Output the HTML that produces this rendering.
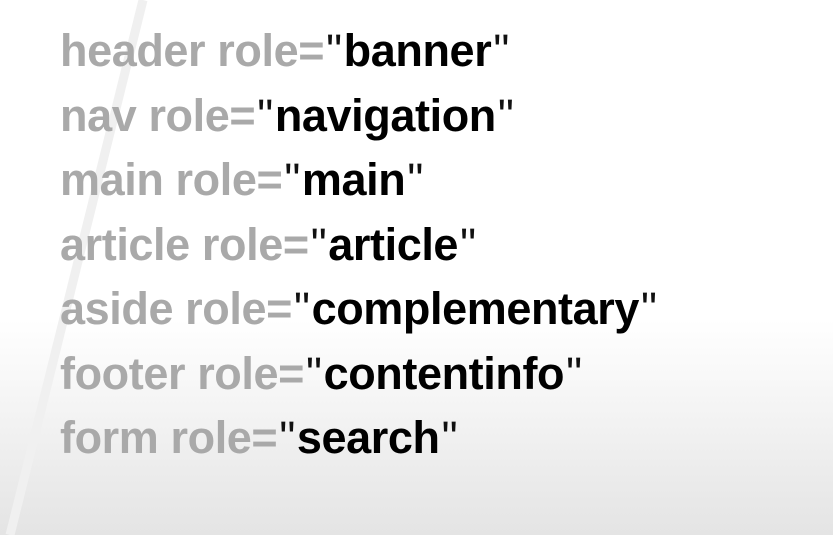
<!DOCTYPE html>
<html><head><meta charset="utf-8"><style>
html,body{margin:0;padding:0}
body{width:833px;height:535px;overflow:hidden;position:relative;background:linear-gradient(#fff 0,#fff 320px,#e4e4e4 535px);font-family:"Liberation Sans",Arial,sans-serif}
.line{position:absolute;left:0;top:0}
.t{position:absolute;left:60px;font-size:45px;font-weight:bold;color:#a9a9a9;white-space:nowrap;letter-spacing:-0.4px;line-height:1}
.t b{color:#000}
.t q{quotes:none;color:#111;font-weight:normal;margin:0 2px}
</style></head><body>
<svg class="line" width="833" height="535"><line x1="143" y1="0" x2="10" y2="535" stroke="#f0f0f0" stroke-width="9"/></svg>
<div class="t" style="top:28px">header role=<q>"</q><b>banner</b><q>"</q></div>
<div class="t" style="top:93px">nav role=<q>"</q><b>navigation</b><q>"</q></div>
<div class="t" style="top:157px">main role=<q>"</q><b>main</b><q>"</q></div>
<div class="t" style="top:222px">article role=<q>"</q><b>article</b><q>"</q></div>
<div class="t" style="top:286px">aside role=<q>"</q><b>complementary</b><q>"</q></div>
<div class="t" style="top:351px">footer role=<q>"</q><b>contentinfo</b><q>"</q></div>
<div class="t" style="top:415px">form role=<q>"</q><b>search</b><q>"</q></div>
</body></html>
